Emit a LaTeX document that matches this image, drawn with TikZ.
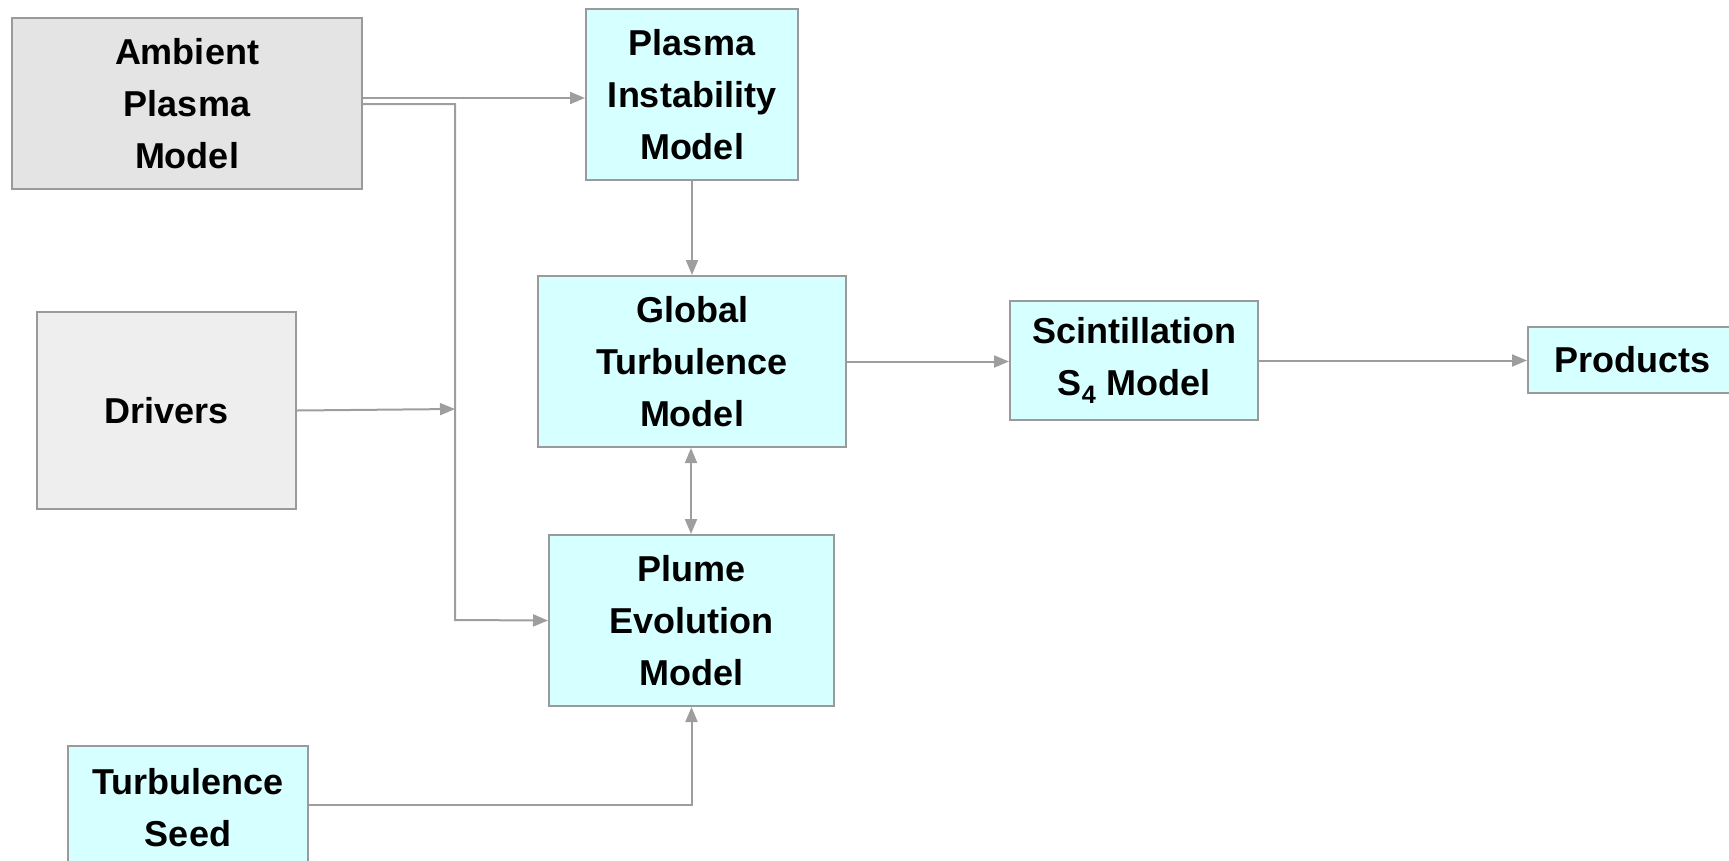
\documentclass[tikz,border=0pt]{standalone}
\usepackage{fontspec}
\setmainfont{Liberation Sans}
\usetikzlibrary{arrows.meta}
\definecolor{boxE}{HTML}{9A9A9A}
\definecolor{lnG}{HTML}{9E9E9E}
\definecolor{ambF}{HTML}{E4E4E4}
\definecolor{drvF}{HTML}{EEEEEE}
\definecolor{cyF}{HTML}{D6FFFF}

\begin{document}
\begin{tikzpicture}[x=1pt,y=-1pt,>={Triangle[length=15pt,width=12pt]},
  modbox/.style={draw=boxE,line width=2pt,fill=cyF,align=center,inner sep=0pt,
    font=\fontsize{36pt}{52pt}\selectfont\bfseries},
  arr/.style={->,draw=lnG,line width=2pt}]
\useasboundingbox (0,0) rectangle (1729,860);
% input boxes
\node[modbox,fill=ambF,minimum width=350pt,minimum height=171pt] (amb) at (187,103.5) {Ambient\\Plasma\\Model};
\node[modbox,fill=drvF,minimum width=259pt,minimum height=197pt] (drv) at (166.5,410.5) {Drivers};
\node[modbox,minimum width=240pt,minimum height=124pt] (tsd) at (188,808) {Turbulence\\Seed};
% model chain
\node[modbox,minimum width=212pt,minimum height=171pt] (pim) at (692,94.5) {Plasma\\Instability\\Model};
\node[modbox,minimum width=308pt,minimum height=171pt] (gtm) at (692,361.5) {Global\\Turbulence\\Model};
\node[modbox,minimum width=285pt,minimum height=171pt] (plm) at (691.5,620.5) {Plume\\Evolution\\Model};
\node[modbox,minimum width=248pt,minimum height=119pt] (scm) at (1134,360.5) {Scintillation\\S\textsubscript{4} Model};
\node[modbox,minimum width=208pt,minimum height=66pt] (prd) at (1632,360) {Products};
% bus from ambient model down to plume model
\coordinate (bus) at (455,620);
\coordinate (drvin) at (455,409);
\draw[arr] ([yshift=5.5pt]amb.east) -- ([yshift=5.5pt]amb.east -| pim.west);
\draw[arr] ([yshift=-0.5pt]amb.east) -| (bus) -- (plm.west);
\draw[arr] (drv.east) -- (drvin);
% links between models
\draw[arr] (pim.south) -- (gtm.north);
\draw[arr,<->] ([xshift=-1pt]gtm.south) -- ([xshift=-1pt]gtm.south |- plm.north);
\draw[arr] (gtm.east) -- (gtm.east -| scm.west);
\draw[arr] (scm.east) -- (scm.east -| prd.west);
\draw[arr] ([yshift=3pt]tsd.east) -| (plm.south);
\end{tikzpicture}
\end{document}
